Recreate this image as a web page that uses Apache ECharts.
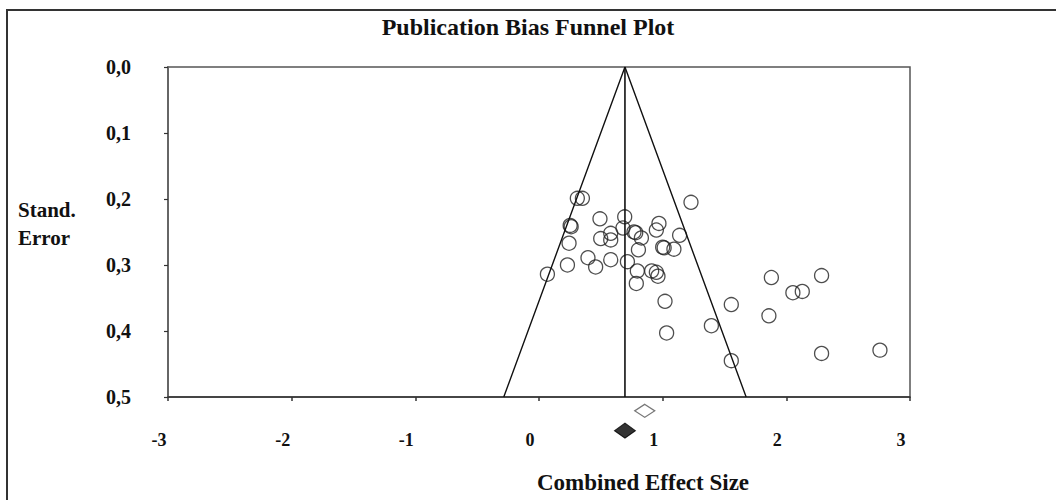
<!DOCTYPE html>
<html>
<head>
<meta charset="utf-8">
<script src="https://cdn.jsdelivr.net/npm/echarts@6/dist/echarts.min.js"></script>
<style>
  html, body { margin: 0; padding: 0; background: #fff; }
  #chart { width: 1056px; height: 500px; }
</style>
</head>
<body>
<div id="chart"></div>
<script>
// ---- Data ----
const effectSizes = [0.310, 0.351, 1.229, 0.493, 0.693, 0.252, 0.260, 0.243, 0.499, 0.580,
                     0.580, 0.679, 0.768, 0.782, 0.828, 0.970, 0.949, 1.137, 0.804, 1.000,
                     1.012, 1.091, 0.396, 0.458, 0.580, 0.715, 0.230, 0.068, 0.795, 0.911,
                     0.949, 0.962, 0.787, 1.019, 1.032, 1.555, 1.394, 1.555, 1.879, 2.285,
                     2.053, 2.129, 1.859, 2.285, 2.757];
const standardErrors = [0.199, 0.199, 0.205, 0.230, 0.227, 0.240, 0.242, 0.267, 0.260, 0.252,
                        0.262, 0.244, 0.250, 0.251, 0.259, 0.237, 0.247, 0.255, 0.277, 0.273,
                        0.274, 0.276, 0.289, 0.303, 0.292, 0.295, 0.300, 0.314, 0.309, 0.309,
                        0.311, 0.317, 0.328, 0.355, 0.403, 0.360, 0.392, 0.445, 0.319, 0.316,
                        0.342, 0.340, 0.377, 0.434, 0.429];
const combinedEffect = 0.695;      // observed combined effect (black diamond, funnel centre)
const adjustedEffect = 0.855;      // adjusted combined effect (open diamond)
const diamondSE = [0.551, 0.521];  // where the diamonds sit below the axis [observed, adjusted]
const xTicks = [-3, -2, -1, 0, 1, 2, 3];
const yTicks = ['0,0', '0,1', '0,2', '0,3', '0,4', '0,5'];
const maxSE = 0.5;

const points = effectSizes.map((e, i) => [e, standardErrors[i]]);
const funnel = [
  [combinedEffect - 1.96 * maxSE, maxSE],
  [combinedEffect, 0],
  [combinedEffect + 1.96 * maxSE, maxSE]
];
const centreLine = [[combinedEffect, 0], [combinedEffect, maxSE]];

const serif = "'Liberation Serif', 'DejaVu Serif', serif";
const chart = echarts.init(document.getElementById('chart'), null, { renderer: 'svg' });

chart.setOption({
  backgroundColor: '#ffffff',
  animation: false,
  title: {
    text: 'Publication Bias Funnel Plot',
    left: 'center',
    top: 10,
    textStyle: { fontFamily: serif, fontWeight: 'bold', fontSize: 24, color: '#111' }
  },
  grid: {
    left: 168, top: 67, width: 742, height: 330,
    show: true, borderColor: '#555', borderWidth: 1.5, backgroundColor: 'transparent'
  },
  xAxis: {
    type: 'value',
    min: -3, max: 3, interval: 1,
    axisLine: { show: true, onZero: false, lineStyle: { color: '#333', width: 1.5 } },
    axisTick: { show: true, length: 4, lineStyle: { color: '#333', width: 1.5 } },
    splitLine: { show: false },
    axisLabel: {
      margin: 34,
      padding: [0, 18, 0, 0],
      formatter: v => String(xTicks[xTicks.indexOf(v)]),
      fontFamily: serif, fontWeight: 'bold', fontSize: 18, color: '#111'
    }
  },
  yAxis: {
    type: 'value',
    inverse: true,
    min: 0, max: 0.5, interval: 0.1,
    axisLine: { show: true, onZero: false, lineStyle: { color: '#666', width: 2 } },
    axisTick: { show: true, length: 4, lineStyle: { color: '#333', width: 1.2 } },
    splitLine: { show: false },
    axisLabel: {
      margin: 37,
      padding: [5, 0, 0, 0],
      formatter: v => yTicks[Math.round(v * 10)],
      fontFamily: serif, fontWeight: 'bold', fontSize: 20, color: '#111'
    }
  },
  graphic: [
    {
      type: 'rect', silent: true, z: -10,
      shape: { x: 7, y: 10, width: 1200, height: 700 },
      style: { fill: 'none', stroke: '#333', lineWidth: 2 }
    },
    {
      type: 'text', left: 18, top: 196,
      style: {
        text: 'Stand.\nError', font: 'bold 21px ' + serif, fill: '#111', lineHeight: 28
      }
    },
    {
      type: 'text', left: 537, top: 471,
      style: { text: 'Combined Effect Size', font: 'bold 23px ' + serif, fill: '#111' }
    }
  ],
  series: [
    {
      type: 'line', data: funnel, symbol: 'none', silent: true,
      lineStyle: { color: '#111', width: 1.4 }
    },
    {
      type: 'line', data: centreLine, symbol: 'none', silent: true,
      lineStyle: { color: '#111', width: 1.6 }
    },
    {
      type: 'scatter', data: points, symbol: 'circle', symbolSize: 14,
      itemStyle: { color: 'rgba(255,255,255,0)', borderColor: '#222', borderWidth: 1.3 }
    },
    {
      type: 'scatter', clip: false, symbol: 'diamond', symbolSize: [20, 13],
      data: [[adjustedEffect, diamondSE[1]]],
      itemStyle: { color: '#fff', borderColor: '#555', borderWidth: 1.3 }
    },
    {
      type: 'scatter', clip: false, symbol: 'diamond', symbolSize: [21, 15],
      data: [[combinedEffect, diamondSE[0]]],
      itemStyle: { color: '#000', borderColor: '#000', borderWidth: 1 }
    }
  ]
});
</script>
</body>
</html>
